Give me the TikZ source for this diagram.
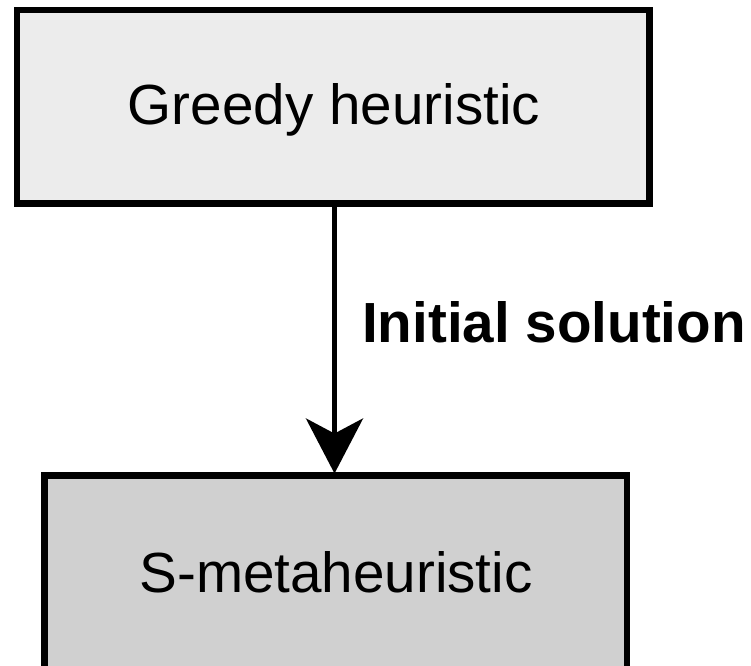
\documentclass[tikz,border=0pt]{standalone}
\usepackage{fontspec}
\setmainfont{Liberation Sans}
\usetikzlibrary{arrows.meta}
\definecolor{boxlight}{HTML}{ECECEC}
\definecolor{boxdark}{HTML}{D0D0D0}
\begin{document}
\begin{tikzpicture}[x=1pt,y=-1pt,
  stagebox/.style={draw=black,line width=6.5pt,inner sep=0pt,outer sep=0pt},
  boxtext/.style={inner sep=0pt,anchor=base,font=\fontsize{56.6pt}{64pt}\selectfont},
  flowlabel/.style={inner sep=0pt,anchor=base west,font=\fontsize{56.6pt}{64pt}\selectfont\bfseries},
  flowarrow/.style={line width=4.6pt,-{Stealth[length=55pt,width=57pt,inset=15pt]}}]
  \useasboundingbox (0,0) rectangle (751,665);
  \begin{scope}
    \clip (0,0) rectangle (751,665);
    % upper stage
    \node[stagebox,fill=boxlight,minimum width=632.5pt,minimum height=193.5pt]
      (greedy) at (333.25,106.75) {};
    \node[boxtext] (greedytext) at (334,124) {Greedy heuristic};
    % lower stage, running past the lower edge
    \node[stagebox,fill=boxdark,minimum width=582.5pt,minimum height=200pt]
      (smeta) at (335.75,575.5) {};
    \node[boxtext] (smetatext) at (336,592) {S-metaheuristic};
    % hand-over of the start solution
    \draw[flowarrow] (greedy.south -| 334.5,0) -- ([shift={(0,-2)}]smeta.north -| 334.5,0);
    \node[flowlabel] (initlabel) at (362,342) {Initial solution};
  \end{scope}
\end{tikzpicture}
\end{document}
